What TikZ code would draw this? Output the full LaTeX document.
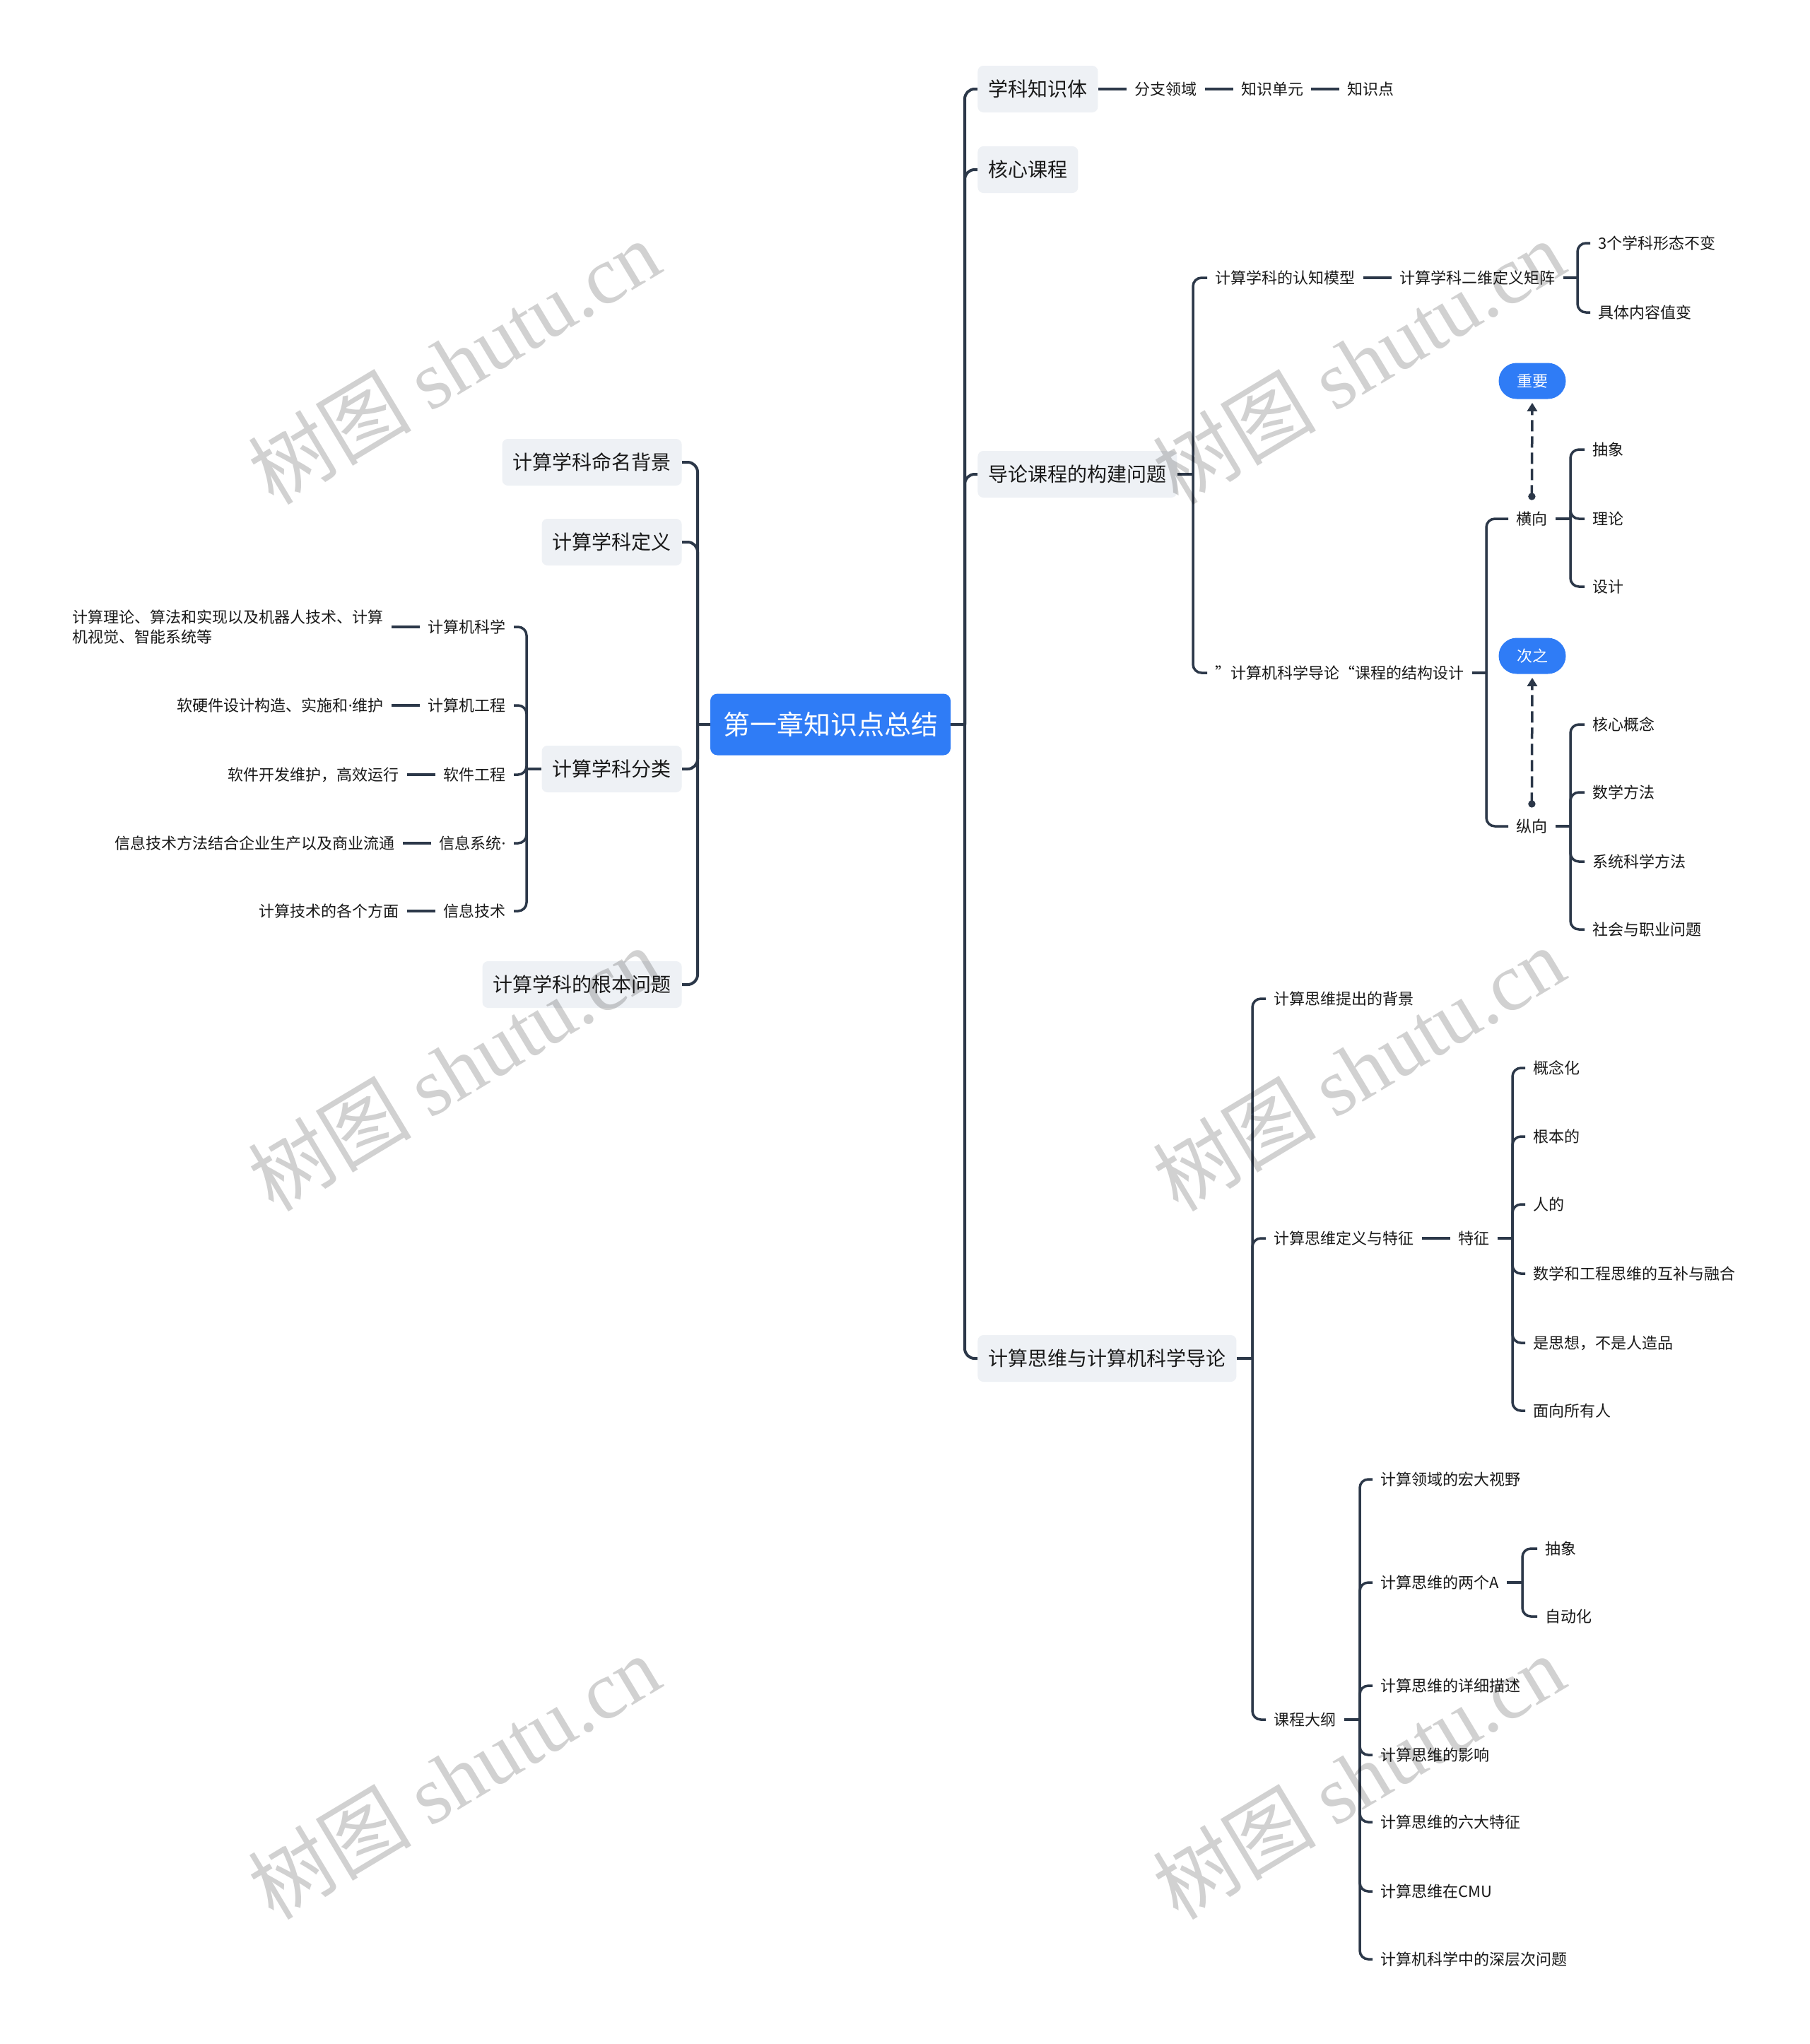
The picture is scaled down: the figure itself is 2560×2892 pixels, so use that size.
\documentclass[tikz,border=0pt]{standalone}
\usepackage{fontspec}
\setmainfont{Noto Sans CJK SC}
\newfontfamily\wmlatin{Liberation Serif}
\newfontfamily\latinf{Noto Sans}
\newcommand{\hdot}{{\latinf ·}}
\usetikzlibrary{positioning,arrows.meta}
\definecolor{linec}{RGB}{44,56,73}
\definecolor{rootblue}{RGB}{47,124,246}
\definecolor{boxgray}{RGB}{238,241,245}
\definecolor{txt}{RGB}{25,25,25}
\begin{document}
\begin{tikzpicture}[x=0.5pt,y=-0.5pt,
  conn/.style={draw=linec,line width=1.75pt,rounded corners=6pt},
  trunk/.style={draw=linec,line width=2pt,rounded corners=7pt},
  rootbox/.style={fill=rootblue,text=white,rounded corners=5pt,font=\fontsize{19}{22}\selectfont,minimum width=170pt,minimum height=43.5pt,inner sep=0pt},
  lone/.style={fill=boxgray,text=txt,rounded corners=4pt,font=\fontsize{14}{16}\selectfont,minimum height=33pt,inner xsep=7.5pt,inner ysep=0pt},
  leaf/.style={text=txt,font=\fontsize{11}{14}\selectfont,inner xsep=5.5pt,inner ysep=2pt},
  pill/.style={fill=rootblue,text=white,rounded corners=12.75pt,font=\fontsize{11}{13}\selectfont,minimum width=47.5pt,minimum height=25.5pt,inner sep=0pt},
  dasharrow/.style={draw=linec,line width=1.75pt,dash pattern=on 8pt off 3.5pt,-{Triangle[width=7pt,length=6pt]},shorten >=2.5pt},
  wm/.style={text=black,opacity=0.18,rotate=31,font=\fontsize{58}{62}\selectfont}
]
\useasboundingbox[fill=white] (0,0) rectangle (2560,2892);

% root
\node[rootbox] (root) at (1175,1025) {第一章知识点总结};

% right level 1
\node[lone,anchor=west] (r1) at (1383,126) {学科知识体};
\node[lone,anchor=west] (r2) at (1383,240) {核心课程};
\node[lone,anchor=west] (r3) at (1383,671) {导论课程的构建问题};
\node[lone,anchor=west] (r4) at (1383,1922) {计算思维与计算机科学导论};

% left level 1
\node[lone,anchor=east] (l1) at (965,654) {计算学科命名背景};
\node[lone,anchor=east] (l2) at (965,767) {计算学科定义};
\node[lone,anchor=east] (l3) at (965,1088) {计算学科分类};
\node[lone,anchor=east] (l4) at (965,1393) {计算学科的根本问题};

% r1 row
\node[leaf,right=20pt of r1] (a1) {分支领域};
\node[leaf,right=20pt of a1] (a2) {知识单元};
\node[leaf,right=20pt of a2] (a3) {知识点};

% r3 subtree
\node[leaf,anchor=west] (b1) at (1708,393) {计算学科的认知模型};
\node[leaf,right=20pt of b1] (b11) {计算学科二维定义矩阵};
\node[leaf,anchor=west] (b111) at (2250,344) {3个学科形态不变};
\node[leaf,anchor=west] (b112) at (2250,442) {具体内容值变};
\node[leaf,anchor=west] (b2) at (1708,952) {”计算机科学导论“课程的结构设计};
\node[leaf,anchor=west] (heng) at (2134,734) {横向};
\node[leaf,anchor=west] (zong) at (2134,1169) {纵向};
\node[leaf,anchor=west] (h1) at (2242,636) {抽象};
\node[leaf,anchor=west] (h2) at (2242,734) {理论};
\node[leaf,anchor=west] (h3) at (2242,830) {设计};
\node[leaf,anchor=west] (z1) at (2242,1025) {核心概念};
\node[leaf,anchor=west] (z2) at (2242,1121) {数学方法};
\node[leaf,anchor=west] (z3) at (2242,1219) {系统科学方法};
\node[leaf,anchor=west] (z4) at (2242,1315) {社会与职业问题};
\node[pill] (zy) at (2168,539) {重要};
\node[pill] (cz) at (2168,928) {次之};

% r4 subtree
\node[leaf,anchor=west] (c1) at (1791,1413) {计算思维提出的背景};
\node[leaf,anchor=west] (c2) at (1791,1752) {计算思维定义与特征};
\node[leaf,right=20pt of c2] (c21) {特征};
\node[leaf,anchor=west] (c3) at (1791,2433) {课程大纲};
\node[leaf,anchor=west] (d1) at (2158,1511) {概念化};
\node[leaf,anchor=west] (d2) at (2158,1608) {根本的};
\node[leaf,anchor=west] (d3) at (2158,1704) {人的};
\node[leaf,anchor=west] (d4) at (2158,1802) {数学和工程思维的互补与融合};
\node[leaf,anchor=west] (d5) at (2158,1900) {是思想，不是人造品};
\node[leaf,anchor=west] (d6) at (2158,1996) {面向所有人};
\node[leaf,anchor=west] (e1) at (1942,2093) {计算领域的宏大视野};
\node[leaf,anchor=west] (e2) at (1942,2239) {计算思维的两个A};
\node[leaf,anchor=west] (e3) at (1942,2385) {计算思维的详细描述};
\node[leaf,anchor=west] (e4) at (1942,2483) {计算思维的影响};
\node[leaf,anchor=west] (e5) at (1942,2578) {计算思维的六大特征};
\node[leaf,anchor=west] (e6) at (1942,2676) {计算思维在CMU};
\node[leaf,anchor=west] (e7) at (1942,2772) {计算机科学中的深层次问题};
\node[leaf,anchor=west] (f1) at (2175,2191) {抽象};
\node[leaf,anchor=west] (f2) at (2175,2287) {自动化};

% l3 subtree
\node[leaf,anchor=east] (g1) at (727,887) {计算机科学};
\node[leaf,anchor=east] (g2) at (727,998) {计算机工程};
\node[leaf,anchor=east] (g3) at (727,1096) {软件工程};
\node[leaf,anchor=east] (g4) at (727,1193) {信息系统\hdot};
\node[leaf,anchor=east] (g5) at (727,1289) {信息技术};
\node[leaf,left=20pt of g1,align=left] (k1) {计算理论、算法和实现以及机器人技术、计算\\机视觉、智能系统等};
\node[leaf,left=20pt of g2] (k2) {软硬件设计构造、实施和\hdot 维护};
\node[leaf,left=20pt of g3] (k3) {软件开发维护，高效运行};
\node[leaf,left=20pt of g4] (k4) {信息技术方法结合企业生产以及商业流通};
\node[leaf,left=20pt of g5] (k5) {计算技术的各个方面};

% junctions
\coordinate (rj) at (1365,1025);
\coordinate (lj) at (987,1025);
\coordinate (j3) at (1688,671);
\coordinate (jb11) at (2232,393);
\coordinate (jb2) at (2103,952);
\coordinate (jh) at (2222,734);
\coordinate (jz) at (2222,1169);
\coordinate (j4) at (1772,1922);
\coordinate (jc21) at (2140,1752);
\coordinate (jc3) at (1924,2433);
\coordinate (je2) at (2154,2239);
\coordinate (jl3) at (745,1088);

% trunks
\draw[trunk] (root.east) -- (rj);
\foreach \n in {r1,r2,r3,r4} \draw[trunk] (rj) |- (\n.west);
\draw[trunk] (root.west) -- (lj);
\foreach \n in {l1,l2,l3,l4} \draw[trunk] (lj) |- (\n.east);

% chains
\draw[conn] (r1.east) -- (a1.west);
\draw[conn] (a1.east) -- (a2.west);
\draw[conn] (a2.east) -- (a3.west);
\draw[conn] (b1.east) -- (b11.west);
\draw[conn] (c2.east) -- (c21.west);
\foreach \g/\k in {g1/k1,g2/k2,g3/k3,g4/k4,g5/k5} \draw[conn] (\g.west) -- (\k.east);

% branches (right side)
\draw[conn] (r3.east) -- (j3);
\foreach \n in {b1,b2} \draw[conn] (j3) |- (\n.west);
\draw[conn] (b11.east) -- (jb11);
\foreach \n in {b111,b112} \draw[conn] (jb11) |- (\n.west);
\draw[conn] (b2.east) -- (jb2);
\foreach \n in {heng,zong} \draw[conn] (jb2) |- (\n.west);
\draw[conn] (heng.east) -- (jh);
\foreach \n in {h1,h2,h3} \draw[conn] (jh) |- (\n.west);
\draw[conn] (zong.east) -- (jz);
\foreach \n in {z1,z2,z3,z4} \draw[conn] (jz) |- (\n.west);
\draw[conn] (r4.east) -- (j4);
\foreach \n in {c1,c2,c3} \draw[conn] (j4) |- (\n.west);
\draw[conn] (c21.east) -- (jc21);
\foreach \n in {d1,d2,d3,d4,d5,d6} \draw[conn] (jc21) |- (\n.west);
\draw[conn] (c3.east) -- (jc3);
\foreach \n in {e1,e2,e3,e4,e5,e6,e7} \draw[conn] (jc3) |- (\n.west);
\draw[conn] (e2.east) -- (je2);
\foreach \n in {f1,f2} \draw[conn] (je2) |- (\n.west);

% branches (left side)
\draw[conn] (l3.west) -- (jl3);
\foreach \n in {g1,g2,g3,g4,g5} \draw[conn] (jl3) |- (\n.east);

% dashed relation arrows
\fill[linec] ([yshift=8.5pt]heng.north) circle (2.6pt);
\draw[dasharrow] ([yshift=8.5pt]heng.north) -- (zy.south);
\fill[linec] ([yshift=8.5pt]zong.north) circle (2.6pt);
\draw[dasharrow] ([yshift=8.5pt]zong.north) -- (cz.south);

% watermark
\node[wm] (w1) at (642,512) {树图 {\wmlatin shutu.cn}};
\node[wm] (w2) at (1922,512) {树图 {\wmlatin shutu.cn}};
\node[wm] (w3) at (642,1512) {树图 {\wmlatin shutu.cn}};
\node[wm] (w4) at (1922,1512) {树图 {\wmlatin shutu.cn}};
\node[wm] (w5) at (642,2514) {树图 {\wmlatin shutu.cn}};
\node[wm] (w6) at (1922,2514) {树图 {\wmlatin shutu.cn}};
\end{tikzpicture}
\end{document}
